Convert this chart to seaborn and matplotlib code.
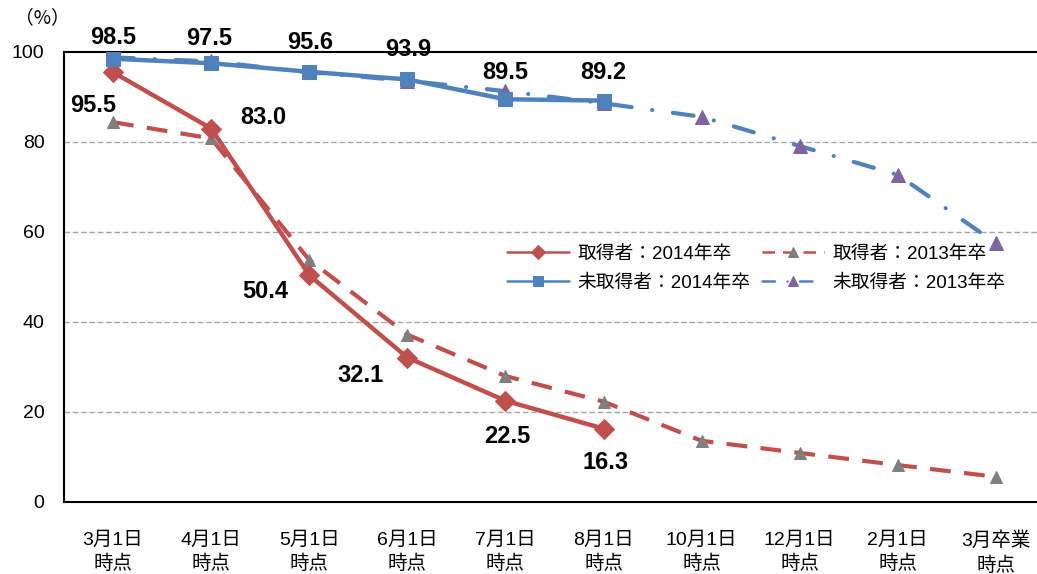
import matplotlib
matplotlib.use("Agg")
import matplotlib.pyplot as plt
import seaborn as sns
import pandas as pd
import numpy as np

categories = ["3月1日\n時点", "4月1日\n時点", "5月1日\n時点", "6月1日\n時点", "7月1日\n時点",
              "8月1日\n時点", "10月1日\n時点", "12月1日\n時点", "2月1日\n時点", "3月卒業\n時点"]
acq_2014 = [95.5, 83.0, 50.4, 32.1, 22.5, 16.3]
acq_2013 = [84.4, 80.8, 53.8, 37.2, 28.0, 22.3, 13.6, 10.9, 8.2, 5.6]
non_2014 = [98.5, 97.5, 95.6, 93.9, 89.5, 89.2]
non_2013 = [98.8, 97.9, 95.5, 93.6, 91.3, 88.6, 85.6, 79.1, 72.7, 57.5]
names = ["取得者：2014年卒", "取得者：2013年卒", "未取得者：2014年卒", "未取得者：2013年卒"]
yticks = [0, 20, 40, 60, 80, 100]

sns.set_theme(style="white")
plt.rcParams['font.family'] = ['Liberation Sans', 'Noto Sans CJK JP', 'DejaVu Sans']
plt.rcParams['text.color'] = 'black'
plt.rcParams['xtick.color'] = 'black'
plt.rcParams['ytick.color'] = 'black'

fig = plt.figure(figsize=(10.37, 5.74), dpi=100)
ax = fig.add_axes([64/1037, 72/574, 981/1037, 450/574])

RED = "#C0504D"
BLUE = "#4F81BD"

def df(vals):
    return pd.DataFrame({"x": np.arange(len(vals)), "y": vals})

sns.lineplot(data=df(acq_2013), x="x", y="y", ax=ax, color=RED, lw=3.0,
             marker="^", markersize=8, markerfacecolor="#7F7F7F", markeredgecolor="#7F7F7F",
             label=names[1], zorder=2)
ax.lines[-1].set_dashes((5, 3.2))
sns.lineplot(data=df(non_2013), x="x", y="y", ax=ax, color=BLUE, lw=3.0,
             marker="^", markersize=10, markerfacecolor="#8064A2", markeredgecolor="#8064A2",
             label=names[3], zorder=2)
ax.lines[-1].set_dashes((5, 5, 0.01, 5))
ax.lines[-1].set_dash_capstyle("round")
sns.lineplot(data=df(acq_2014), x="x", y="y", ax=ax, color=RED, lw=3.2,
             marker="D", markersize=10, markerfacecolor=RED, markeredgecolor=RED,
             label=names[0], zorder=3)
sns.lineplot(data=df(non_2014), x="x", y="y", ax=ax, color=BLUE, lw=3.2,
             marker="s", markersize=10, markerfacecolor=BLUE, markeredgecolor=BLUE,
             label=names[2], zorder=3)

# data labels (offsets in pixels)
red_off = [(-20, -33), (52, 11), (-44, -16), (-47, -18), (2, -36), (2, -34)]
blue_off = [(0, 21), (-2, 25), (1, 29), (1, 30), (0, 27), (0, 28)]
for i, v in enumerate(acq_2014):
    dx, dy = red_off[i]
    ax.annotate(f"{v:.1f}", (i, v), xytext=(dx, dy), textcoords="offset pixels",
                ha="center", va="center", fontsize=17, fontweight="bold", color="black")
for i, v in enumerate(non_2014):
    dx, dy = blue_off[i]
    ax.annotate(f"{v:.1f}", (i, v), xytext=(dx, dy), textcoords="offset pixels",
                ha="center", va="center", fontsize=17, fontweight="bold", color="black")

ax.set_xlim(-0.5, len(categories) - 0.5)
ax.set_ylim(0, 100)
ax.set_yticks(yticks)
ax.set_yticklabels([str(t) for t in yticks], fontsize=14)
ax.set_xticks(np.arange(len(categories)))
ax.set_xticklabels(categories, fontsize=14, linespacing=1.45)
ax.set_xticks(np.arange(len(categories) + 1) - 0.5, minor=True)
ax.tick_params(axis="x", which="major", length=0, pad=21)
ax.tick_params(axis="x", which="minor", length=5, width=1.2, direction="out", color="black")
ax.tick_params(axis="y", length=5, width=1.2, direction="out", color="black", pad=9)
ax.set_xlabel("")
ax.set_ylabel("")
for y in [20, 40, 60, 80]:
    ax.axhline(y, color="#A6A6A6", lw=1.0, ls=(0, (4, 2)), zorder=0)
for s in ["left", "bottom", "top"]:
    ax.spines[s].set_visible(True)
    ax.spines[s].set_color("black")
    ax.spines[s].set_linewidth(1.5)
ax.spines["right"].set_visible(False)

h, l = ax.get_legend_handles_labels()
hd = dict(zip(l, h))
leg = ax.legend([hd[names[0]], hd[names[2]], hd[names[1]], hd[names[3]]],
                [names[0], names[2], names[1], names[3]],
                ncol=2, frameon=False, fontsize=13.5, handlelength=3.3,
                bbox_to_anchor=(0.452, 0.57), loc="upper left", borderpad=0, borderaxespad=0,
                columnspacing=0.6, handletextpad=0.45, labelspacing=0.65)
for lh in leg.get_lines():
    lh.set_linewidth(1.8)
    lh.set_markersize(7)

fig.text(15/1037, 1 - 18/574, "（%）", fontsize=13.5, ha="left", va="center",
         family=['Noto Sans CJK JP', 'DejaVu Sans'])

fig.savefig("out.png", dpi=100)
